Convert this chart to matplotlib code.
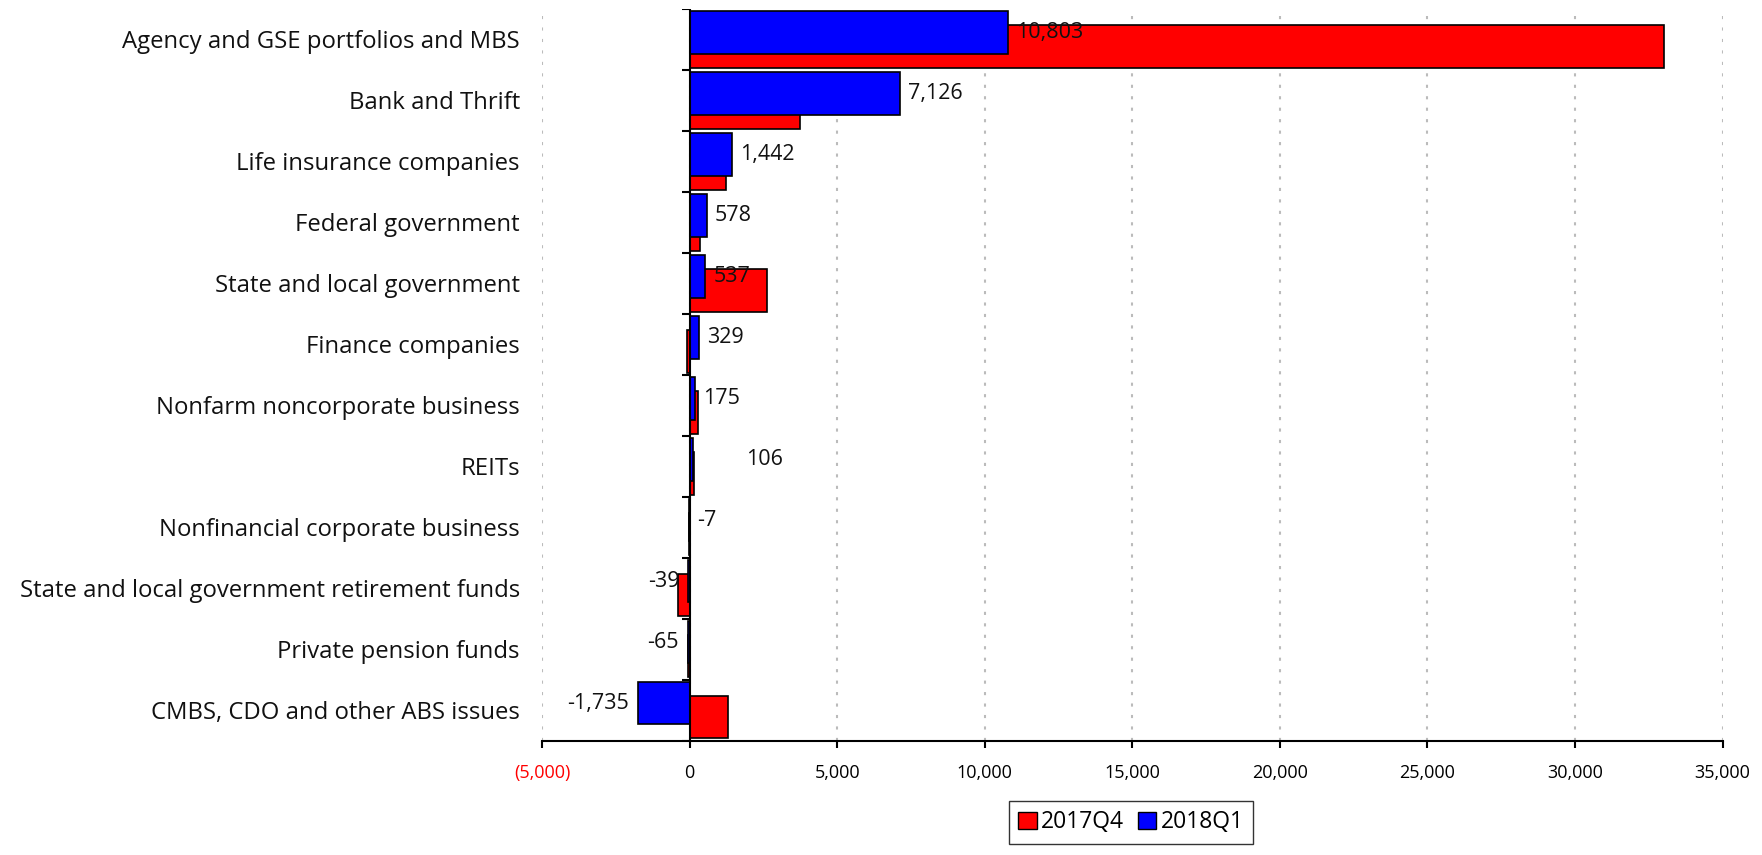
import matplotlib.pyplot as plt
from matplotlib.patches import Patch
from matplotlib.ticker import FuncFormatter

plt.rcParams['font.family'] = ['Open Sans', 'DejaVu Sans']

categories = [
    "Agency and GSE portfolios and MBS",
    "Bank and Thrift",
    "Life insurance companies",
    "Federal government",
    "State and local government",
    "Finance companies",
    "Nonfarm noncorporate business",
    "REITs",
    "Nonfinancial corporate business",
    "State and local government retirement funds",
    "Private pension funds",
    "CMBS, CDO and other ABS issues",
]
q4_2017 = [33000, 3730, 1220, 340, 2630, -90, 280, 140, -5, -400, -40, 1300]
q1_2018 = [10803, 7126, 1442, 578, 537, 329, 175, 106, -7, -39, -65, -1735]

# a couple of labels sit off their usual spot
label_nudge = {"REITs": 45}
label_right = {"Nonfinancial corporate business"}

fig = plt.figure(figsize=(17.62, 8.55), dpi=100)
ax = fig.add_axes([0.3076, 0.1339, 0.67, 0.8556])

pos = list(range(len(categories)))
h = 0.70
off = 0.115
ax.barh([p + off for p in pos], q4_2017, height=h, color="#ff0000",
        edgecolor="black", linewidth=1.2, zorder=3)
ax.barh([p - off for p in pos], q1_2018, height=h, color="#0000ff",
        edgecolor="black", linewidth=1.2, zorder=4)

ax.set_xlim(-5000, 35000)
ax.set_ylim(len(categories) - 0.5, -0.5)

# value labels next to the 2018Q1 bars
for p, cat, v in zip(pos, categories, q1_2018):
    txt = f"{v:,}"
    if v >= 0 or cat in label_right:
        dx = 8 + label_nudge.get(cat, 0)
        x0, ha = max(v, 0), "left"
    else:
        dx, x0, ha = -9, v, "right"
    ax.annotate(txt, (x0, p - off), xytext=(dx, 0), textcoords="offset pixels",
                ha=ha, va="center", fontsize=15.5, color="#111111", zorder=5)

# vertical zero line with band separators
ax.axvline(0, color="black", linewidth=1.5, zorder=6)
tick_len = 8 * 40000 / (0.67 * 1762)
bounds = [p - 0.5 for p in pos] + [len(pos) - 0.5]
ax.hlines(bounds, -tick_len, 0, color="black", linewidth=1.5, zorder=6)

ax.set_yticks(pos)
ax.set_yticklabels(categories, fontsize=17.2, color="#111111")
ax.tick_params(axis="y", length=0, pad=16)

ax.set_xticks(range(-5000, 35001, 5000))
ax.xaxis.set_major_formatter(FuncFormatter(
    lambda v, _: f"({abs(int(v)):,})" if v < 0 else f"{int(v):,}"))
ax.tick_params(axis="x", length=5, width=1.5, pad=12, labelsize=13)
for lbl in ax.get_xticklabels():
    if lbl.get_text().startswith("("):
        lbl.set_color("red")

ax.grid(axis="x", color="#bbbbbb", linestyle=(0, (1.5, 4)), linewidth=1.5, zorder=0)
for s in ["left", "right", "top"]:
    ax.spines[s].set_visible(False)
ax.spines["bottom"].set_linewidth(1.5)

handles = [Patch(facecolor="#ff0000", edgecolor="black", label="2017Q4"),
           Patch(facecolor="#0000ff", edgecolor="black", label="2018Q1")]
leg = fig.legend(handles=handles, loc="lower center", bbox_to_anchor=(0.642, 0.0),
                 ncol=2, fontsize=16.5, frameon=True, fancybox=False,
                 handlelength=0.8, handleheight=0.8, handletextpad=0.2,
                 columnspacing=0.6, borderpad=0.4, edgecolor="black")
leg.get_frame().set_linewidth(1.0)

fig.savefig("out.png", dpi=100)
